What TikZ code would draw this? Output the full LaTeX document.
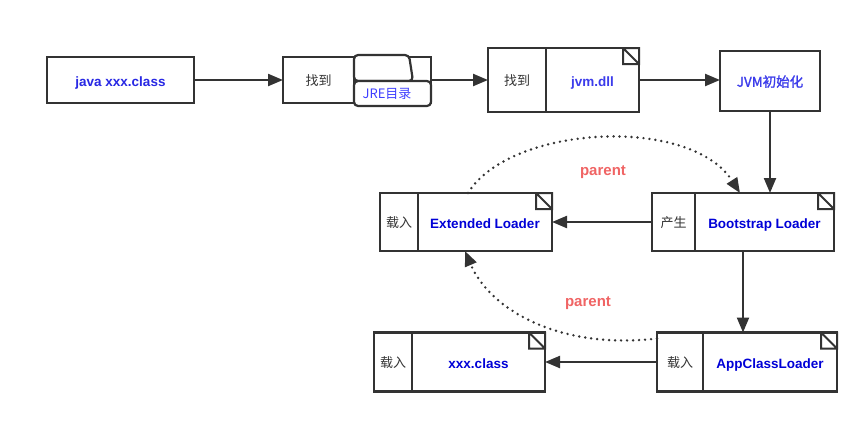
\documentclass[tikz,border=0pt]{standalone}
\usepackage{fontspec}
\setmainfont{Liberation Sans}
\newfontfamily\cjk{Noto Sans CJK SC}
\newfontfamily\cjkfb[FakeBold=1.5]{Noto Sans CJK SC}
\usetikzlibrary{arrows.meta}
\definecolor{lc}{RGB}{51,51,51}
\definecolor{dblue}{RGB}{0,0,215}
\definecolor{mblue}{RGB}{40,40,228}
\definecolor{lblue}{RGB}{60,60,235}
\definecolor{jblue}{RGB}{64,64,255}
\definecolor{pred}{RGB}{240,100,100}
\newcommand\notecorner[1]{%
  \draw[cornerline] ([xshift=-16pt]#1.north east) rectangle ([yshift=-16pt]#1.north east)
    ([xshift=-16pt]#1.north east) -- ([yshift=-16pt]#1.north east);}
\begin{document}
\begin{tikzpicture}[x=1pt,y=-1pt,
  bx/.style={draw=lc,line width=2.2pt,fill=white,inner sep=0pt,outer sep=0pt},
  zh/.style={font=\cjk\fontsize{13}{13}\selectfont,text=lc,text height=11pt,text depth=0pt},
  en/.style={font=\bfseries\fontsize{13.5}{14}\selectfont,text=dblue,text height=12.5pt,text depth=0pt},
  conn/.style={draw=lc,line width=2.2pt,-{Triangle[length=15pt,width=12pt]}},
  dots/.style={draw=lc,line width=2.7pt,line cap=round,dash pattern=on 0pt off 6pt,-{Triangle[length=15pt,width=12pt]}},
  lbl/.style={font=\bfseries\fontsize{15}{15}\selectfont,text=pred,text height=11pt,text depth=0pt},
  cornerline/.style={draw=lc,line width=2pt}
]
\useasboundingbox[fill=white] (0,0) rectangle (868,423);

% row 1
\node[bx,en,text=mblue,minimum width=147pt,minimum height=46pt] (n1) at (120.5,80) {java xxx.class};
\node[bx,zh,minimum width=71pt,minimum height=46pt] (n2L) at (318.5,80) {找到};
\node[bx,minimum width=77pt,minimum height=46pt] (n2R) at (392.5,80) {};
\filldraw[draw=lc,fill=white,line width=2.2pt,rounded corners=4pt] (354,81) -- (354,55) -- (409,55) -- (413,81) -- cycle;
\filldraw[draw=lc,fill=white,line width=2.2pt,rounded corners=4pt] (354,81) -- (431,81) -- (431,106) -- (354,106) -- cycle;
\node[font=\cjk\fontsize{13}{13}\selectfont,text=jblue,inner sep=0pt] (jre) at (387,94) {JRE目录};

\node[bx,zh,minimum width=58pt,minimum height=64pt] (n3L) at (517,80) {找到};
\node[bx,en,text=lblue,minimum width=93pt,minimum height=64pt] (n3R) at (592.5,80) {jvm.dll};
\notecorner{n3R}

\node[bx,font=\cjkfb\fontsize{13.5}{14}\selectfont,text=lblue,text height=11.5pt,text depth=0pt,minimum width=100pt,minimum height=60pt] (n4) at (770,81) {JVM初始化};

% row 2
\node[bx,zh,minimum width=43pt,minimum height=58pt] (n5L) at (673.5,222) {产生};
\node[bx,en,minimum width=139pt,minimum height=58pt] (n5R) at (764.5,222) {Bootstrap Loader};
\notecorner{n5R}

\node[bx,zh,minimum width=38pt,minimum height=58pt] (n6L) at (399,222) {载入};
\node[bx,en,minimum width=134pt,minimum height=58pt] (n6R) at (485,222) {Extended Loader};
\notecorner{n6R}

% row 3
\node[bx,zh,minimum width=46pt,minimum height=59pt] (n7L) at (680,362) {载入};
\node[bx,en,minimum width=134pt,minimum height=59pt] (n7R) at (770,362) {AppClassLoader};
\notecorner{n7R}

\node[bx,zh,minimum width=38pt,minimum height=59pt] (n8L) at (393,362) {载入};
\node[bx,en,minimum width=133pt,minimum height=59pt] (n8R) at (478.5,362) {xxx.class};
\notecorner{n8R}

% connectors
\draw[conn] (n1.east) -- (n2L.west);
\draw[conn] (n2R.east) -- (n3L.west);
\draw[conn] (n3R.east) -- (n3R.east -| n4.west);
\draw[conn] (n4.south) -- (n4.south |- n5R.north);
\draw[conn] (n5L.west) -- (n6R.east);
\draw[conn] ([xshift=-21.5pt]n5R.south) -- ([xshift=-21.5pt]n5R.south |- n7R.north);
\draw[conn] (n7L.west) -- (n8R.east);

\draw[dots] ([xshift=-17pt]n6R.north) .. controls (510,125) and (690,115) .. ([xshift=-24.5pt]n5R.north);
\draw[dots] ([yshift=23.5pt]n7L.west) .. controls (560,350) and (490,310) .. ([xshift=-20pt]n6R.south);

\node[lbl] (p1) at (603,170) {parent};
\node[lbl] (p2) at (588,301) {parent};
\end{tikzpicture}
\end{document}
